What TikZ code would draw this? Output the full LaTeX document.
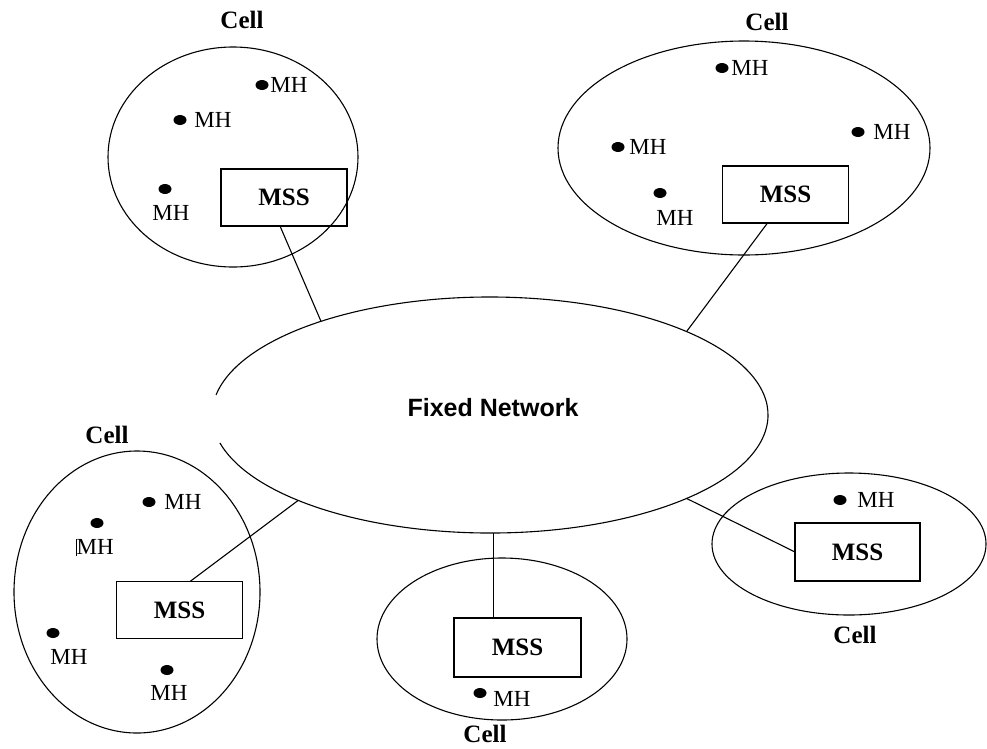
\documentclass[tikz,border=0pt]{standalone}
\usepackage{fontspec}
\setmainfont{Liberation Serif}
\newfontfamily\netfont{Liberation Sans}
\usetikzlibrary{shapes.geometric}

\begin{document}
\begin{tikzpicture}[x=1pt,y=-1pt,
  line width=1.1pt,
  cell/.style={draw, ellipse, inner sep=0pt, outer sep=0pt},
  mss/.style={draw, rectangle, minimum width=126pt, minimum height=57pt,
    inner sep=0pt, outer sep=0pt, font=\fontsize{25}{28}\selectfont\bfseries},
  host/.style={fill, ellipse, minimum width=13pt, minimum height=10pt, inner sep=0pt},
  mhlabel/.style={font=\fontsize{23}{26}\selectfont, inner sep=0pt},
  celllabel/.style={font=\fontsize{25}{28}\selectfont\bfseries, inner sep=0pt},
]
\useasboundingbox (0,0) rectangle (987,748);

% fixed network (outline drawn as an open arc below)
\node[ellipse, minimum width=556pt, minimum height=236pt, inner sep=0pt, outer sep=0pt]
  (fn) at (490,415) {};
\draw (fn.center) ++(189.8:278 and 118)
  arc[start angle=189.8, end angle=526.3, x radius=278, y radius=118];
\node[font=\netfont\fontsize{25}{28}\selectfont\bfseries] (fnlabel) at (493,408) {Fixed Network};

% cell 1 (top left)
\node[cell, minimum width=250pt, minimum height=220pt] (c1) at (233,157) {};
\node[celllabel] (l1) at (242,20) {Cell};
\node[mss] (mss1) at (284,197.5) {MSS};
\node[host] (h11) at (262,85) {};
\node[mhlabel] (m11) at (289,85) {MH};
\node[host] (h12) at (180,120) {};
\node[mhlabel] (m12) at (213,120) {MH};
\node[host] (h13) at (165,189) {};
\node[mhlabel] (m13) at (171,213) {MH};

% cell 2 (top right)
\node[cell, minimum width=372pt, minimum height=214pt] (c2) at (744,148) {};
\node[celllabel] (l2) at (767,22) {Cell};
\node[mss] (mss2) at (785.5,194.5) {MSS};
\node[host] (h21) at (722,68) {};
\node[mhlabel] (m21) at (750,68) {MH};
\node[host] (h22) at (858,132) {};
\node[mhlabel] (m22) at (892,132) {MH};
\node[host] (h23) at (618,147) {};
\node[mhlabel] (m23) at (648,147) {MH};
\node[host] (h24) at (660,193) {};
\node[mhlabel] (m24) at (675,218) {MH};

% cell 3 (bottom left)
\node[cell, minimum width=246pt, minimum height=282pt] (c3) at (137,592) {};
\node[celllabel] (l3) at (107,435) {Cell};
\node[mss] (mss3) at (179.5,610) {MSS};
\node[host] (h31) at (149,502) {};
\node[mhlabel] (m31) at (183,502) {MH};
\node[host] (h32) at (97,523) {};
\node[mhlabel] (m32) at (95,547) {\rule[-1pt]{0.5pt}{17pt}MH};
\node[host] (h33) at (53,633) {};
\node[mhlabel] (m33) at (69,657) {MH};
\node[host] (h34) at (167,670) {};
\node[mhlabel] (m34) at (169,693) {MH};

% cell 4 (bottom centre)
\node[cell, minimum width=250pt, minimum height=162pt] (c4) at (502,639) {};
\node[celllabel] (l4) at (485,734) {Cell};
\node[mss, minimum width=127pt, minimum height=59pt] (mss4) at (517.5,647.5) {MSS};
\node[host] (h41) at (480,693) {};
\node[mhlabel] (m41) at (512,699) {MH};

% cell 5 (bottom right)
\node[cell, minimum width=274pt, minimum height=142pt] (c5) at (849,544) {};
\node[celllabel] (l5) at (855,635) {Cell};
\node[mss, minimum width=125pt, minimum height=58pt] (mss5) at (857.5,552) {MSS};
\node[host] (h51) at (840,500) {};
\node[mhlabel] (m51) at (876,500) {MH};

% links from each MSS to the fixed network
\draw ([xshift=-4pt]mss1.south) -- (fn.151.6);
\draw ([xshift=-18pt]mss2.south) -- (fn.23.9);
\draw ([xshift=10.5pt]mss3.north) -- (fn.204);
\draw ([xshift=-24pt]mss4.north) -- ([xshift=-24pt]mss4.north |- fn.south);
\draw (mss5.west) -- (fn.-23.1);
\end{tikzpicture}
\end{document}
